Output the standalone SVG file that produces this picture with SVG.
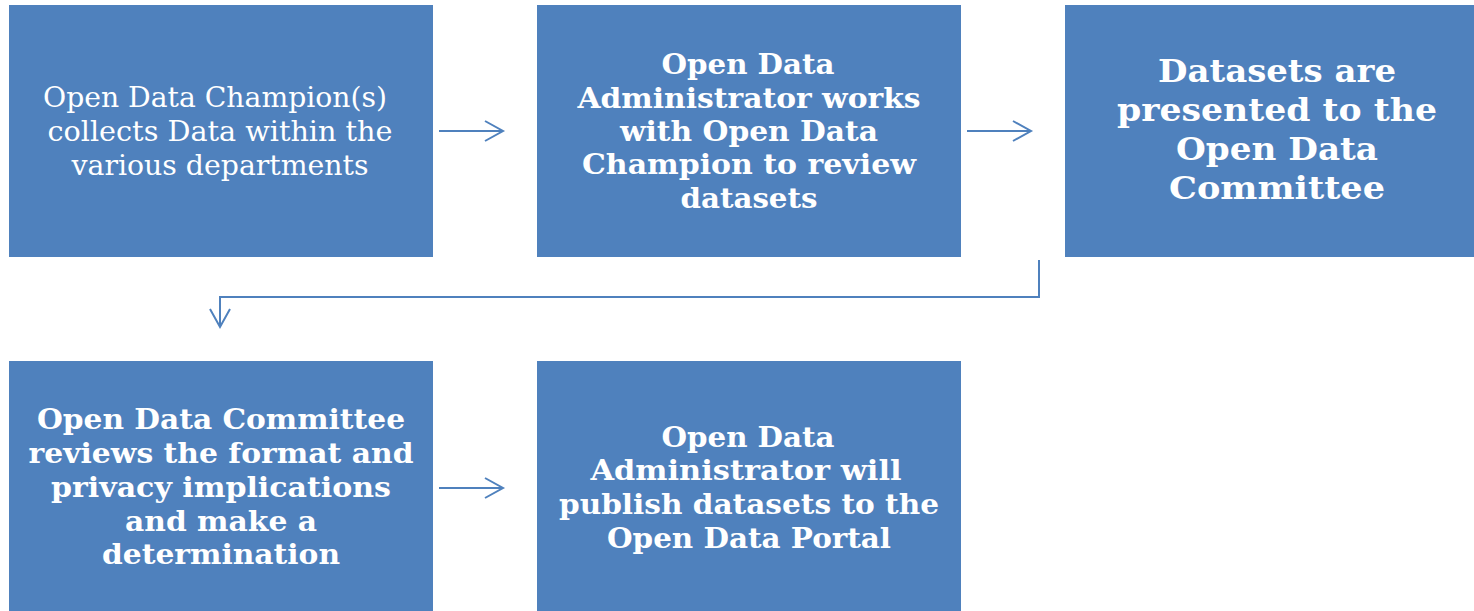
<svg xmlns="http://www.w3.org/2000/svg" width="1474" height="611" viewBox="0 0 1474 611">
<style>
.box{fill:#4f81bd;}
.t{fill:#ffffff;font-family:"DejaVu Serif","Liberation Serif",serif;font-weight:bold;font-size:27px;text-anchor:middle;}
.tr{fill:#ffffff;font-family:"DejaVu Serif","Liberation Serif",serif;font-size:28px;text-anchor:middle;}
.tl{font-size:32px;}
.c{fill:none;stroke:#4f81bd;stroke-width:2;}
</style>
<defs>
<marker id="ah" markerUnits="userSpaceOnUse" markerWidth="24" markerHeight="24" viewBox="-20 -12 24 24" refX="0" refY="0" orient="auto">
<path d="M-18,-10 L0,0 L-18,10" fill="none" stroke="#4f81bd" stroke-width="2"/>
</marker>
</defs>
<rect width="1474" height="611" fill="#ffffff"/>
<g id="node1">
<rect class="box" x="9" y="5" width="424" height="252"/>
<text class="tr" x="215" y="107" textLength="344" lengthAdjust="spacingAndGlyphs">Open Data Champion(s)</text>
<text class="tr" x="220" y="141" textLength="345" lengthAdjust="spacingAndGlyphs">collects Data within the</text>
<text class="tr" x="220" y="175" textLength="297" lengthAdjust="spacingAndGlyphs">various departments</text>
</g>
<g id="node2">
<rect class="box" x="537" y="5" width="424" height="252"/>
<text class="t" x="748" y="74" textLength="173" lengthAdjust="spacingAndGlyphs">Open Data</text>
<text class="t" x="749" y="108" textLength="343" lengthAdjust="spacingAndGlyphs">Administrator works</text>
<text class="t" x="749" y="141" textLength="258" lengthAdjust="spacingAndGlyphs">with Open Data</text>
<text class="t" x="749" y="174" textLength="334" lengthAdjust="spacingAndGlyphs">Champion to review</text>
<text class="t" x="749" y="208" textLength="137" lengthAdjust="spacingAndGlyphs">datasets</text>
</g>
<g id="node3">
<rect class="box" x="1065" y="5" width="409" height="252"/>
<text class="t tl" x="1277" y="82" textLength="238" lengthAdjust="spacingAndGlyphs">Datasets are</text>
<text class="t tl" x="1277" y="121" textLength="320" lengthAdjust="spacingAndGlyphs">presented to the</text>
<text class="t tl" x="1277" y="160" textLength="202" lengthAdjust="spacingAndGlyphs">Open Data</text>
<text class="t tl" x="1277" y="199" textLength="216" lengthAdjust="spacingAndGlyphs">Committee</text>
</g>
<g id="node4">
<rect class="box" x="9" y="361" width="424" height="250"/>
<text class="t" x="221" y="429" textLength="368" lengthAdjust="spacingAndGlyphs">Open Data Committee</text>
<text class="t" x="221" y="463" textLength="385" lengthAdjust="spacingAndGlyphs">reviews the format and</text>
<text class="t" x="221" y="497" textLength="340" lengthAdjust="spacingAndGlyphs">privacy implications</text>
<text class="t" x="221" y="531" textLength="192" lengthAdjust="spacingAndGlyphs">and make a</text>
<text class="t" x="221" y="564" textLength="238" lengthAdjust="spacingAndGlyphs">determination</text>
</g>
<g id="node5">
<rect class="box" x="537" y="361" width="424" height="250"/>
<text class="t" x="748" y="447" textLength="173" lengthAdjust="spacingAndGlyphs">Open Data</text>
<text class="t" x="746" y="480" textLength="311" lengthAdjust="spacingAndGlyphs">Administrator will</text>
<text class="t" x="749" y="514" textLength="380" lengthAdjust="spacingAndGlyphs">publish datasets to the</text>
<text class="t" x="749" y="548" textLength="284" lengthAdjust="spacingAndGlyphs">Open Data Portal</text>
</g>
<g id="connectors">
<line class="c" x1="439" y1="131" x2="503" y2="131" marker-end="url(#ah)"/>
<line class="c" x1="967" y1="131" x2="1031" y2="131" marker-end="url(#ah)"/>
<polyline class="c" points="1039,260 1039,297 220,297 220,327" marker-end="url(#ah)"/>
<line class="c" x1="439" y1="488" x2="503" y2="488" marker-end="url(#ah)"/>
</g>
</svg>
